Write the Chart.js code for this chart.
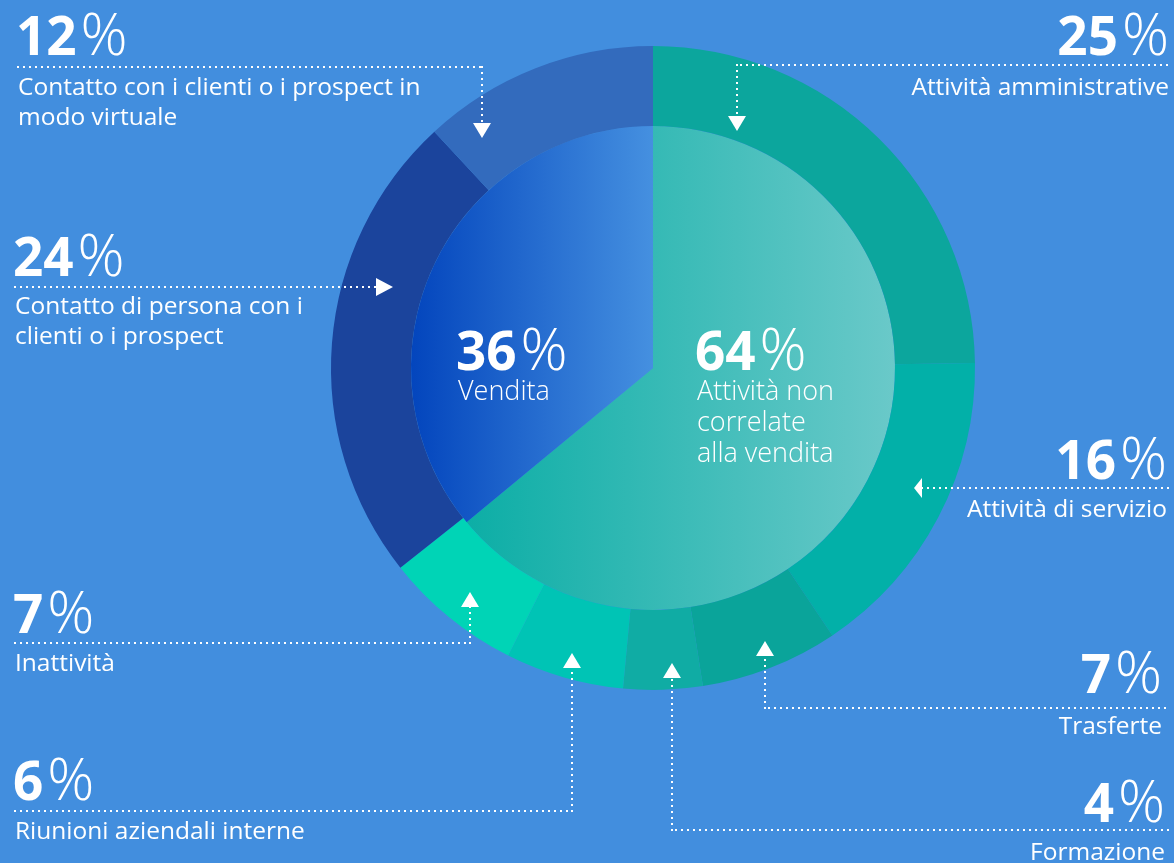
<!DOCTYPE html>
<html lang="it">
<head>
<meta charset="utf-8">
<title>Distribuzione del tempo</title>
<script src="https://cdn.jsdelivr.net/npm/chart.js@4/dist/chart.umd.min.js"></script>
<style>
  html, body { margin: 0; padding: 0; }
  body { width: 1174px; height: 863px; overflow: hidden; background: #428EDE; position: relative;
         font-family: "Open Sans", "Noto Sans", sans-serif; color: #fff; }
  #chart { position: absolute; left: 0; top: 0; }
  .blk { position: absolute; white-space: pre-line; }
  .num { font-size: 53px; line-height: 53px; white-space: nowrap; }
  .num b { font-weight: 700; }
  .num span { font-weight: 300; margin-left: 4px; font-size: 1.1em; }
  .lbl { font-size: 24.5px; line-height: 30px; font-weight: 400; }
  .clbl { font-size: 27px; line-height: 31px; font-weight: 300; }
  .r { text-align: right; }
</style>
</head>
<body>
<canvas id="chart" width="1174" height="863"></canvas>
<div id="texts"></div>
<script>
// Outer ring: activity breakdown, clockwise from 12 o'clock
const segmentLabels = [
  'Attività amministrative',
  'Attività di servizio',
  'Trasferte',
  'Formazione',
  'Riunioni aziendali interne',
  'Inattività',
  'Contatto di persona con i\nclienti o i prospect',
  'Contatto con i clienti o i prospect in\nmodo virtuale'
];
const segmentValues = [25, 16, 7, 4, 6, 7, 24, 12];
const segmentColors = ['#0CA69D', '#02B0A8', '#0AA49A', '#10ACA4', '#00C4B5', '#00D4B6', '#1B449C', '#336BBD'];

// Inner pie: sales vs non-sales
const groupLabels = ['Attività non\ncorrelate\nalla vendita', 'Vendita'];
const groupValues = [64, 36];
const groupGradients = [
  ['#0DAEA6', '#6AC9C9'],
  ['#0345BD', '#4590E0']
];

// Ring thickness vs pie radius
const ringWeight = 80;
const pieWeight = 242;

// Text block placement: anchor x, side, number baseline, label baseline
const segmentTextPos = [
  { x: 1169, side: 'r', nb: 53,  lb: 96 },
  { x: 1167, side: 'r', nb: 477, lb: 518 },
  { x: 1162, side: 'r', nb: 691, lb: 735 },
  { x: 1165, side: 'r', nb: 820, lb: 861 },
  { x: 13,   side: 'l', nb: 798, lb: 840 },
  { x: 13,   side: 'l', nb: 631, lb: 672 },
  { x: 13,   side: 'l', nb: 274, lb: 315 },
  { x: 16,   side: 'l', nb: 53,  lb: 96 }
];
const groupTextPos = [
  { x: 695, nb: 368, lb: 400 },
  { x: 456, nb: 368, lb: 400 }
];

// Dotted leader paths (last point is the arrow tip) and arrow direction
const leaders = [
  { pts: [[1167, 65], [737, 65], [737, 116]], dir: 'down' },
  { pts: [[1168, 488], [922, 488]], dir: 'left' },
  { pts: [[1165, 708], [765, 708], [765, 656]], dir: 'up' },
  { pts: [[1168, 830], [672, 830], [672, 678]], dir: 'up' },
  { pts: [[15, 811], [572, 811], [572, 668]], dir: 'up' },
  { pts: [[15, 643], [470, 643], [470, 607]], dir: 'up' },
  { pts: [[15, 287], [376, 287]], dir: 'right' },
  { pts: [[18, 67], [482, 67], [482, 123]], dir: 'down' }
];

function pctHTML(v) { return '<b>' + v + '</b><span>%</span>'; }

function addBlock(html, cls, x, side, top) {
  const d = document.createElement('div');
  d.className = 'blk ' + cls + (side === 'r' ? ' r' : '');
  if (side === 'r') d.style.right = (1174 - x) + 'px'; else d.style.left = x + 'px';
  d.style.top = top + 'px';
  d.innerHTML = html;
  document.getElementById('texts').appendChild(d);
}

// baseline -> top offset for Open Sans: top = baseline - L/2 - 0.388F
const NF = 53, LF = 24.5, CF = 27;
segmentValues.forEach((v, i) => {
  const p = segmentTextPos[i];
  addBlock(pctHTML(v), 'num', p.x, p.side, p.nb - NF / 2 - 0.388 * NF);
  addBlock(segmentLabels[i], 'lbl', p.x + (p.side === 'r' ? 0 : 2), p.side, p.lb - 15 - 0.388 * LF);
});
groupValues.forEach((v, i) => {
  const p = groupTextPos[i];
  addBlock(pctHTML(v), 'num', p.x, 'l', p.nb - NF / 2 - 0.388 * NF);
  addBlock(groupLabels[i], 'clbl', p.x + 2, 'l', p.lb - 15.5 - 0.388 * CF);
});

const leaderPlugin = {
  id: 'leaders',
  afterDraw(chart) {
    const ctx = chart.ctx;
    ctx.save();
    ctx.fillStyle = '#ffffff';
    leaders.forEach(L => {
      const pts = L.pts;
      for (let k = 0; k < pts.length - 1; k++) {
        const [x0, y0] = pts[k], [x1, y1] = pts[k + 1];
        const len = Math.hypot(x1 - x0, y1 - y0);
        const n = Math.floor(len / 6);
        for (let s = 0; s <= n; s++) {
          const t = (s * 6) / len;
          const x = x0 + (x1 - x0) * t, y = y0 + (y1 - y0) * t;
          ctx.fillRect(Math.round(x) - 1, Math.round(y) - 1, 2, 2);
        }
      }
      const [ax, ay] = pts[pts.length - 1];
      const w = 9, h = 15;
      ctx.beginPath();
      if (L.dir === 'down') { ctx.moveTo(ax - w, ay); ctx.lineTo(ax + w, ay); ctx.lineTo(ax, ay + h); }
      if (L.dir === 'up')   { ctx.moveTo(ax - w, ay); ctx.lineTo(ax + w, ay); ctx.lineTo(ax, ay - h); }
      if (L.dir === 'right'){ ctx.moveTo(ax, ay - w); ctx.lineTo(ax, ay + w); ctx.lineTo(ax + 17, ay); }
      if (L.dir === 'left') { ctx.moveTo(ax, ay - 10); ctx.lineTo(ax, ay + 10); ctx.lineTo(ax - 8, ay); }
      ctx.closePath();
      ctx.fill();
    });
    ctx.restore();
  }
};

// Horizontal gradient across each inner slice, derived from the chart area
function pieGradient(ctx, i) {
  const chart = ctx.chart;
  const a = chart.chartArea;
  if (!a || !isFinite(a.left)) return groupGradients[i][0];
  const cx = (a.left + a.right) / 2;
  const R = Math.min(a.right - a.left, a.bottom - a.top) / 2;
  const r = R * pieWeight / (pieWeight + ringWeight);
  let x0, x1;
  if (i === 0) { x0 = cx - r * 0.76; x1 = cx + r; } else { x0 = cx - r; x1 = cx; }
  const g = chart.ctx.createLinearGradient(x0, 0, x1, 0);
  g.addColorStop(0, groupGradients[i][0]);
  g.addColorStop(1, groupGradients[i][1]);
  return g;
}

new Chart(document.getElementById('chart'), {
  type: 'doughnut',
  data: {
    labels: segmentLabels,
    datasets: [
      {
        data: segmentValues,
        backgroundColor: segmentColors,
        borderWidth: 0,
        weight: ringWeight
      },
      {
        data: groupValues,
        backgroundColor: (ctx) => pieGradient(ctx, ctx.dataIndex),
        borderWidth: 0,
        weight: pieWeight
      }
    ]
  },
  options: {
    responsive: false,
    devicePixelRatio: 1,
    animation: false,
    cutout: 0,
    rotation: 0,
    layout: { padding: { left: 331, right: 199, top: 46, bottom: 173 } },
    plugins: { legend: { display: false }, tooltip: { enabled: false } },
    events: []
  },
  plugins: [leaderPlugin]
});
</script>
</body>
</html>
